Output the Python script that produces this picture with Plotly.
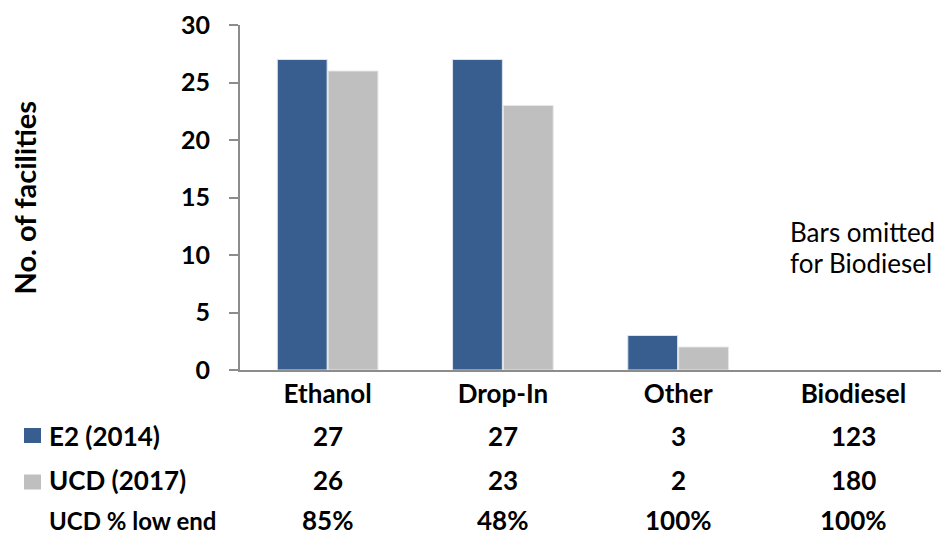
import plotly.graph_objects as go

# Facility counts by fuel type
categories = ["Ethanol", "Drop-In", "Other", "Biodiesel"]
e2_2014 = [27, 27, 3, 123]
ucd_2017 = [26, 23, 2, 180]
ucd_low_end = ["85%", "48%", "100%", "100%"]
omitted = ["Biodiesel"]  # counts too large for the scale, shown only in the table

series_names = ["E2 (2014)", "UCD (2017)"]
row_labels = ["E2 (2014)", "UCD (2017)", "UCD % low end"]
note_lines = ["Bars omitted", "for Biodiesel"]

BLUE = "#375E8F"
GRAY = "#BFBFBF"
AXIS = "#8C8C8C"
FONT = "Lato"
FS = 26

W, H = 945, 536
L, R, T, B = 240, 4, 25, 166
PW, PH = W - L - R, H - T - B


def px_x(px):
    return (px - L) / PW


def px_y(py):
    return (H - B - py) / PH


def bar_vals(vals):
    return [None if c in omitted else v for c, v in zip(categories, vals)]


fig = go.Figure()
fig.add_trace(go.Bar(x=categories, y=bar_vals(e2_2014), name=series_names[0],
                     marker=dict(color=BLUE, line=dict(color="#DCE3EC", width=1))))
fig.add_trace(go.Bar(x=categories, y=bar_vals(ucd_2017), name=series_names[1],
                     marker=dict(color=GRAY, line=dict(color="#E6E6E6", width=1))))

annotations = []
row_y = [436, 480, 520]
rows = [e2_2014, ucd_2017, ucd_low_end]
for ry, vals in zip(row_y, rows):
    for c, v in zip(categories, vals):
        annotations.append(dict(x=c, xref="x", y=px_y(ry), yref="paper",
                                text=f"<b>{v}</b>", showarrow=False,
                                xanchor="center", yanchor="middle",
                                font=dict(family=FONT, size=FS, color="#000")))
for ry, lab, fs in zip(row_y, row_labels, [FS, FS, 24]):
    annotations.append(dict(x=px_x(47), xref="paper", y=px_y(ry), yref="paper",
                            text=f"<b>{lab}</b>", showarrow=False,
                            xanchor="left", yanchor="middle",
                            font=dict(family=FONT, size=fs, color="#000")))

for ny, line in zip([232, 263], note_lines):
    annotations.append(dict(x=px_x(788), xref="paper", y=px_y(ny), yref="paper",
                            text=line, showarrow=False,
                            xanchor="left", yanchor="middle", align="left",
                            font=dict(family=FONT, size=FS, color="#000")))

annotations.append(dict(x=px_x(24), xref="paper", y=0.5, yref="paper",
                        text="<b>No. of facilities</b>", showarrow=False,
                        textangle=-90, xanchor="center", yanchor="middle",
                        font=dict(family=FONT, size=29, color="#000")))

shapes = []
for ry, col in zip([435.5, 482], [BLUE, GRAY]):
    shapes.append(dict(type="rect", xref="paper", yref="paper",
                       x0=px_x(24), x1=px_x(41), y0=px_y(ry + 7.5), y1=px_y(ry - 7.5),
                       fillcolor=col, line=dict(width=0)))

fig.update_layout(
    width=W, height=H,
    margin=dict(l=L, r=R, t=T, b=B),
    paper_bgcolor="white", plot_bgcolor="white",
    barmode="group", bargap=0.42, bargroupgap=0.02,
    showlegend=False,
    annotations=annotations, shapes=shapes,
    font=dict(family=FONT, color="#000"),
)
fig.update_xaxes(showline=True, linecolor=AXIS, linewidth=2, showgrid=False,
                 ticks="", tickfont=dict(family=FONT, size=FS, color="#000", weight="bold"),
                 range=[-0.5, 3.5])
fig.update_yaxes(range=[0, 30], dtick=5, showline=True, linecolor=AXIS, linewidth=2,
                 ticks="outside", ticklen=9, tickcolor=AXIS, tickwidth=2,
                 ticklabelstandoff=14,
                 showgrid=False, zeroline=False,
                 tickfont=dict(family=FONT, size=25, color="#000", weight="bold"))

fig.write_html("out.html")
